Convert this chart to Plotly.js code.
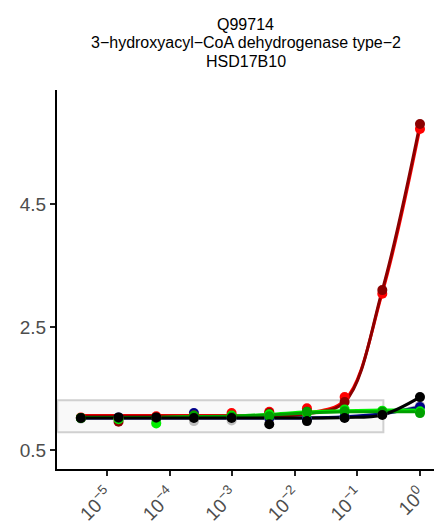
<!DOCTYPE html>
<html>
<head>
<meta charset="utf-8">
<script src="https://cdn.plot.ly/plotly-3.0.1.min.js"></script>
<style>html,body{margin:0;padding:0;background:#fff;}#chart{width:434px;height:526px;}</style>
</head>
<body>
<div id="chart"></div>
<script>
// Concentrations (4-fold dilution series)
const conc = [1, 0.25, 0.0625, 0.015625, 0.00390625, 0.0009765625, 0.000244140625, 0.00006103515625, 0.0000152587890625, 0.000003814697265625];

// Observed points
const redPts      = [5.72, 3.04, 1.36, 1.18, 1.12, 1.10, 1.06, 1.05, 1.02, 1.03];
const darkredPts  = [5.80, 3.10, 1.28, 1.12, 1.10, 1.06, 1.04, 1.03, 0.96, 1.02];
const limePts     = [1.13, 1.14, 1.16, 1.10, 1.08, 1.06, 1.04, 0.93, 1.00, 1.02];
const greenPts    = [1.10, 1.12, 1.13, 1.12, 1.05, 1.04, 1.06, 1.02, 1.02, 1.02];
const navyPts     = [1.20, 1.10, 1.04, 1.00, 1.02, 1.04, 1.10, 1.02, 1.03, 1.02];
const grayPts     = [1.22, 1.08, 1.03, 1.00, 1.00, 0.98, 0.97, 0.95, 1.00, 1.01];
const blackPts    = [1.36, 1.07, 1.02, 0.97, 0.92, 1.02, 1.02, 1.03, 1.03, 1.02];

// Fitted curves, read at the same concentrations
const redFit      = [5.74, 3.06, 1.31, 1.10, 1.06, 1.06, 1.06, 1.06, 1.06, 1.06];
const darkredFit  = [5.80, 3.10, 1.28, 1.09, 1.05, 1.05, 1.05, 1.05, 1.05, 1.05];
const limeFit     = [1.15, 1.15, 1.14, 1.12, 1.08, 1.05, 1.04, 1.03, 1.03, 1.03];
const greenFit    = [1.12, 1.12, 1.12, 1.10, 1.07, 1.05, 1.04, 1.03, 1.03, 1.03];
const navyFit     = [1.20, 1.09, 1.04, 1.02, 1.02, 1.02, 1.02, 1.02, 1.02, 1.02];
const grayFit     = [1.22, 1.08, 1.03, 1.02, 1.02, 1.02, 1.02, 1.02, 1.02, 1.02];
const blackFit    = [1.36, 1.07, 1.03, 1.02, 1.02, 1.02, 1.02, 1.02, 1.02, 1.02];

// Highlight box bounds
const boxX = [0.0000016, 0.26];
const boxY = [0.79, 1.31];

// Axis ticks
const xTickVals = [1e-5, 1e-4, 1e-3, 1e-2, 1e-1, 1];
const xTickText = ['10<sup>\u22125</sup>', '10<sup>\u22124</sup>', '10<sup>\u22123</sup>', '10<sup>\u22122</sup>', '10<sup>\u22121</sup>', '10<sup>0</sup>'];
const yTickVals = [0.5, 2.5, 4.5];
const yTickText = ['0.5', '2.5', '4.5'];

const titleLines = ['Q99714', '3\u2212hydroxyacyl\u2212CoA dehydrogenase type\u22122', 'HSD17B10'];

const series = [
  {pts: grayPts, fit: grayFit, color: '#bebebe'},
  {pts: navyPts, fit: navyFit, color: '#00008b'},
  {pts: redPts, fit: redFit, color: '#ff0000'},
  {pts: darkredPts, fit: darkredFit, color: '#8b0000'},
  {pts: limePts, fit: limeFit, color: '#00ee00'},
  {pts: greenPts, fit: greenFit, color: '#00a000'},
  {pts: blackPts, fit: blackFit, color: '#000000'}
];

const traces = [];
traces.push({
  x: [boxX[0], boxX[1], boxX[1], boxX[0], boxX[0]],
  y: [boxY[0], boxY[0], boxY[1], boxY[1], boxY[0]],
  mode: 'lines', fill: 'toself', fillcolor: 'rgba(245,245,245,0.6)',
  line: {color: '#d0d0d0', width: 2}, hoverinfo: 'skip'
});
series.forEach(s => {
  traces.push({x: conc, y: s.fit, mode: 'lines', line: {color: s.color, width: 3, shape: 'spline', smoothing: 1}, hoverinfo: 'skip'});
});
series.forEach(s => {
  traces.push({x: conc, y: s.pts, mode: 'markers', marker: {color: s.color, size: 10}, hoverinfo: 'skip'});
});

const layout = {
  width: 434, height: 526,
  margin: {l: 57, r: 0, t: 90, b: 57},
  paper_bgcolor: '#fff', plot_bgcolor: '#fff',
  showlegend: false,
  font: {family: 'Liberation Sans, Arial, sans-serif', color: '#4d4d4d'},
  xaxis: {
    type: 'log', range: [-5.80, 0.224],
    showgrid: false, zeroline: false,
    showline: true, linecolor: '#000', linewidth: 2,
    ticks: 'outside', ticklen: 5, tickwidth: 2, tickcolor: '#222',
    tickvals: xTickVals, ticktext: xTickText, tickangle: -45,
    tickfont: {size: 19, color: '#4d4d4d'}
  },
  yaxis: {
    range: [0.191, 6.354],
    showgrid: false, zeroline: false,
    showline: true, linecolor: '#000', linewidth: 2,
    ticks: 'outside', ticklen: 5, tickwidth: 2, tickcolor: '#222',
    tickvals: yTickVals, ticktext: yTickText,
    tickfont: {size: 19, color: '#4d4d4d'}
  },
  annotations: titleLines.map((t, i) => ({
    text: t, xref: 'paper', yref: 'paper', x: 0.5, y: [1.1741, 1.1253, 1.0765][i],
    xanchor: 'center', yanchor: 'middle', showarrow: false, borderpad: 0,
    font: {size: 16, color: '#000', family: 'Liberation Sans, Arial, sans-serif'}
  }))
};

Plotly.newPlot('chart', traces, layout, {displayModeBar: false, staticPlot: true});
</script>
</body>
</html>
